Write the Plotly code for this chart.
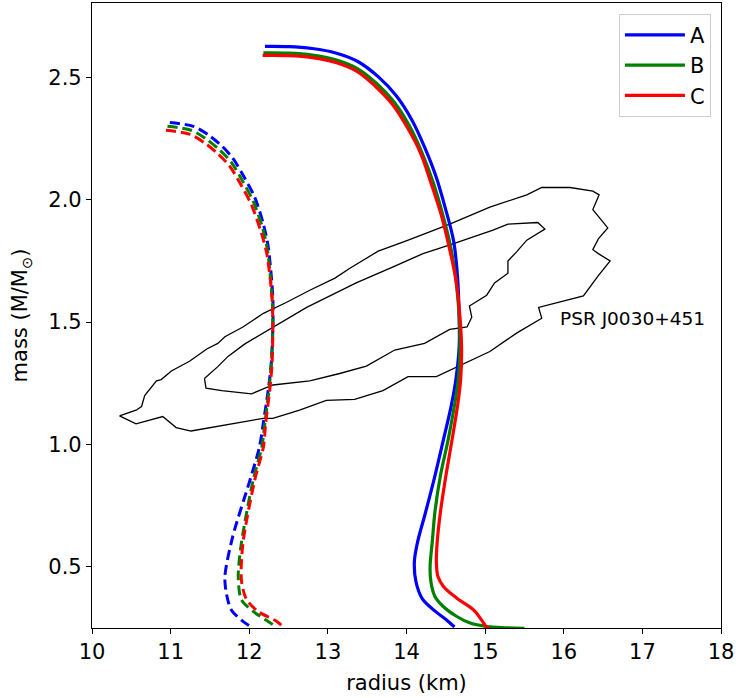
import plotly.graph_objects as go

# Mass-radius curves (radius in km, mass in solar masses)
a_radius = [12.20, 12.50, 12.80, 13.10, 13.38, 13.65, 13.87, 14.07, 14.23, 14.37, 14.49, 14.60,
            14.65, 14.67, 14.67, 14.63, 14.57, 14.47, 14.36, 14.24, 14.14, 14.10, 14.12, 14.20,
            14.36, 14.52, 14.61]
a_mass = [2.627, 2.626, 2.618, 2.600, 2.565, 2.500, 2.425, 2.325, 2.215, 2.100, 1.970, 1.830,
          1.680, 1.520, 1.400, 1.270, 1.160, 1.020, 0.870, 0.720, 0.600, 0.520, 0.440, 0.370,
          0.320, 0.280, 0.254]

b_radius = [12.18, 12.50, 12.80, 13.10, 13.37, 13.62, 13.84, 14.04, 14.20, 14.34, 14.46, 14.56,
            14.63, 14.67, 14.68, 14.66, 14.61, 14.53, 14.43, 14.36, 14.33, 14.30, 14.31, 14.36,
            14.46, 14.64, 14.81, 15.02, 15.25, 15.50]
b_mass = [2.600, 2.599, 2.591, 2.572, 2.537, 2.475, 2.400, 2.300, 2.190, 2.070, 1.940, 1.810,
          1.670, 1.520, 1.400, 1.270, 1.160, 1.020, 0.870, 0.720, 0.610, 0.500, 0.440, 0.380,
          0.340, 0.297, 0.270, 0.256, 0.251, 0.249]

c_radius = [12.17, 12.50, 12.80, 13.10, 13.37, 13.60, 13.82, 14.02, 14.18, 14.31, 14.44, 14.54,
            14.63, 14.68, 14.70, 14.69, 14.65, 14.58, 14.50, 14.43, 14.39, 14.38, 14.40, 14.47,
            14.64, 14.85, 14.96, 15.01, 15.06]
c_mass = [2.590, 2.589, 2.581, 2.561, 2.525, 2.465, 2.390, 2.290, 2.190, 2.070, 1.940, 1.810,
          1.670, 1.520, 1.400, 1.270, 1.160, 1.020, 0.870, 0.720, 0.600, 0.520, 0.460, 0.420,
          0.372, 0.325, 0.280, 0.257, 0.245]

# Dashed family
a2_radius = [10.99, 11.29, 11.48, 11.65, 11.79, 11.94, 12.07, 12.18, 12.24, 12.30, 12.30, 12.28,
             12.24, 12.18, 12.13, 12.01, 11.79, 11.69, 11.71, 11.77, 11.92, 12.03]
a2_mass = [2.316, 2.300, 2.265, 2.220, 2.170, 2.090, 2.010, 1.900, 1.810, 1.600, 1.480, 1.330,
           1.220, 1.090, 0.990, 0.855, 0.624, 0.460, 0.390, 0.325, 0.277, 0.254]

b2_radius = [10.96, 11.26, 11.45, 11.62, 11.77, 11.92, 12.05, 12.17, 12.23, 12.29, 12.30, 12.28,
             12.25, 12.20, 12.16, 12.05, 11.90, 11.86, 11.90, 12.05, 12.24, 12.35]
b2_mass = [2.300, 2.284, 2.249, 2.204, 2.154, 2.074, 1.994, 1.884, 1.797, 1.600, 1.480, 1.330,
           1.220, 1.090, 0.990, 0.855, 0.597, 0.460, 0.366, 0.318, 0.277, 0.254]

c2_radius = [10.94, 11.24, 11.43, 11.60, 11.75, 11.90, 12.03, 12.15, 12.22, 12.29, 12.30, 12.29,
             12.26, 12.21, 12.18, 12.07, 11.92, 11.90, 11.96, 12.11, 12.35, 12.45]
c2_mass = [2.284, 2.268, 2.233, 2.188, 2.138, 2.058, 1.978, 1.868, 1.785, 1.600, 1.480, 1.330,
           1.220, 1.090, 0.990, 0.855, 0.597, 0.447, 0.370, 0.318, 0.277, 0.250]

# PSR J0030+451 credible-region contours
outer_radius = [10.35, 10.56, 10.90, 11.07, 11.26, 12.18, 12.30, 12.64, 12.98, 13.34, 13.70, 14.02,
                14.38, 15.06, 15.40, 15.72, 15.68, 16.25, 16.44, 16.59, 16.44, 16.37, 16.44, 16.56,
                16.37, 16.45, 16.37, 16.08, 15.72, 15.53, 15.06, 14.55, 13.98, 13.64, 13.28, 13.09,
                12.77, 12.64, 12.47, 12.18, 11.92, 11.69, 11.60, 11.46, 11.24, 11.01, 10.88, 10.82,
                10.67, 10.63, 10.56, 10.35]
outer_mass = [1.117, 1.084, 1.114, 1.069, 1.055, 1.107, 1.107, 1.140, 1.180, 1.184, 1.220, 1.277,
              1.277, 1.380, 1.455, 1.516, 1.560, 1.607, 1.690, 1.750, 1.780, 1.796, 1.840, 1.885,
              1.960, 2.020, 2.035, 2.050, 2.050, 2.020, 1.970, 1.900, 1.830, 1.790, 1.720, 1.680,
              1.630, 1.607, 1.580, 1.536, 1.480, 1.440, 1.413, 1.390, 1.340, 1.300, 1.265, 1.260,
              1.200, 1.155, 1.140, 1.117]

inner_radius = [11.43, 11.45, 11.65, 12.03, 12.30, 12.77, 13.15, 13.49, 13.85, 14.23, 14.55, 14.77,
                14.83, 14.80, 15.02, 15.12, 15.29, 15.29, 15.40, 15.53, 15.76, 15.67, 15.29, 15.10,
                14.59, 14.21, 13.83, 13.36, 12.73, 12.30, 11.94, 11.73, 11.60, 11.43]
inner_mass = [1.270, 1.230, 1.220, 1.207, 1.243, 1.260, 1.290, 1.320, 1.386, 1.413, 1.470, 1.480,
              1.520, 1.566, 1.610, 1.660, 1.700, 1.750, 1.787, 1.835, 1.880, 1.907, 1.900, 1.876,
              1.820, 1.780, 1.726, 1.660, 1.560, 1.480, 1.410, 1.360, 1.318, 1.270]

labels = ["A", "B", "C"]
colors = ["#0000ff", "#008000", "#ff0000"]
solid = [(a_radius, a_mass), (b_radius, b_mass), (c_radius, c_mass)]
dashed = [(a2_radius, a2_mass), (b2_radius, b2_mass), (c2_radius, c2_mass)]

FONT = "DejaVu Sans"
FS = 21
fig = go.Figure()

for r, m in [(outer_radius, outer_mass), (inner_radius, inner_mass)]:
    fig.add_trace(go.Scatter(x=r, y=m, mode="lines", showlegend=False,
                             line=dict(color="black", width=1.3)))

for (r, m), col in zip(dashed, colors):
    fig.add_trace(go.Scatter(x=r, y=m, mode="lines", showlegend=False,
                             line=dict(color=col, width=3, dash="10px,5px",
                                       shape="spline", smoothing=0.8)))

for (r, m), col, name in zip(solid, colors, labels):
    fig.add_trace(go.Scatter(x=r, y=m, mode="lines", name=name, legendgroup=name,
                             line=dict(color=col, width=3.2, shape="spline", smoothing=1.0)))

fig.add_annotation(x=15.93, y=1.515, text="PSR J0030+451", showarrow=False,
                   xanchor="left", yanchor="middle", font=dict(family=FONT, size=18.5, color="black"))

axis_common = dict(showgrid=False, zeroline=False, showline=True, linecolor="black", linewidth=1.2,
                   mirror=True, ticks="outside", ticklen=5, tickwidth=1.2, tickcolor="black",
                   tickfont=dict(family=FONT, size=FS, color="black"))

fig.update_layout(
    width=736, height=698,
    margin=dict(l=92, r=15, t=3, b=70),
    plot_bgcolor="white", paper_bgcolor="white",
    font=dict(family=FONT, size=FS, color="black"),
    xaxis=dict(range=[10, 18], tickvals=list(range(10, 19)),
               title=dict(text="radius (km)", font=dict(family=FONT, size=FS), standoff=12),
               **axis_common),
    yaxis=dict(range=[0.25, 2.804], tickvals=[0.5, 1.0, 1.5, 2.0, 2.5], tickformat=".1f",
               title=dict(text="mass (M/M<sub>⊙</sub>)", font=dict(family=FONT, size=FS), standoff=14),
               **axis_common),
    legend=dict(x=0.984, y=0.983, xanchor="right", yanchor="top", itemwidth=60,
                bgcolor="rgba(255,255,255,0.8)", bordercolor="#cccccc", borderwidth=1,
                tracegroupgap=0, font=dict(family=FONT, size=FS)),
    showlegend=True,
)

fig.write_html("out.html")
